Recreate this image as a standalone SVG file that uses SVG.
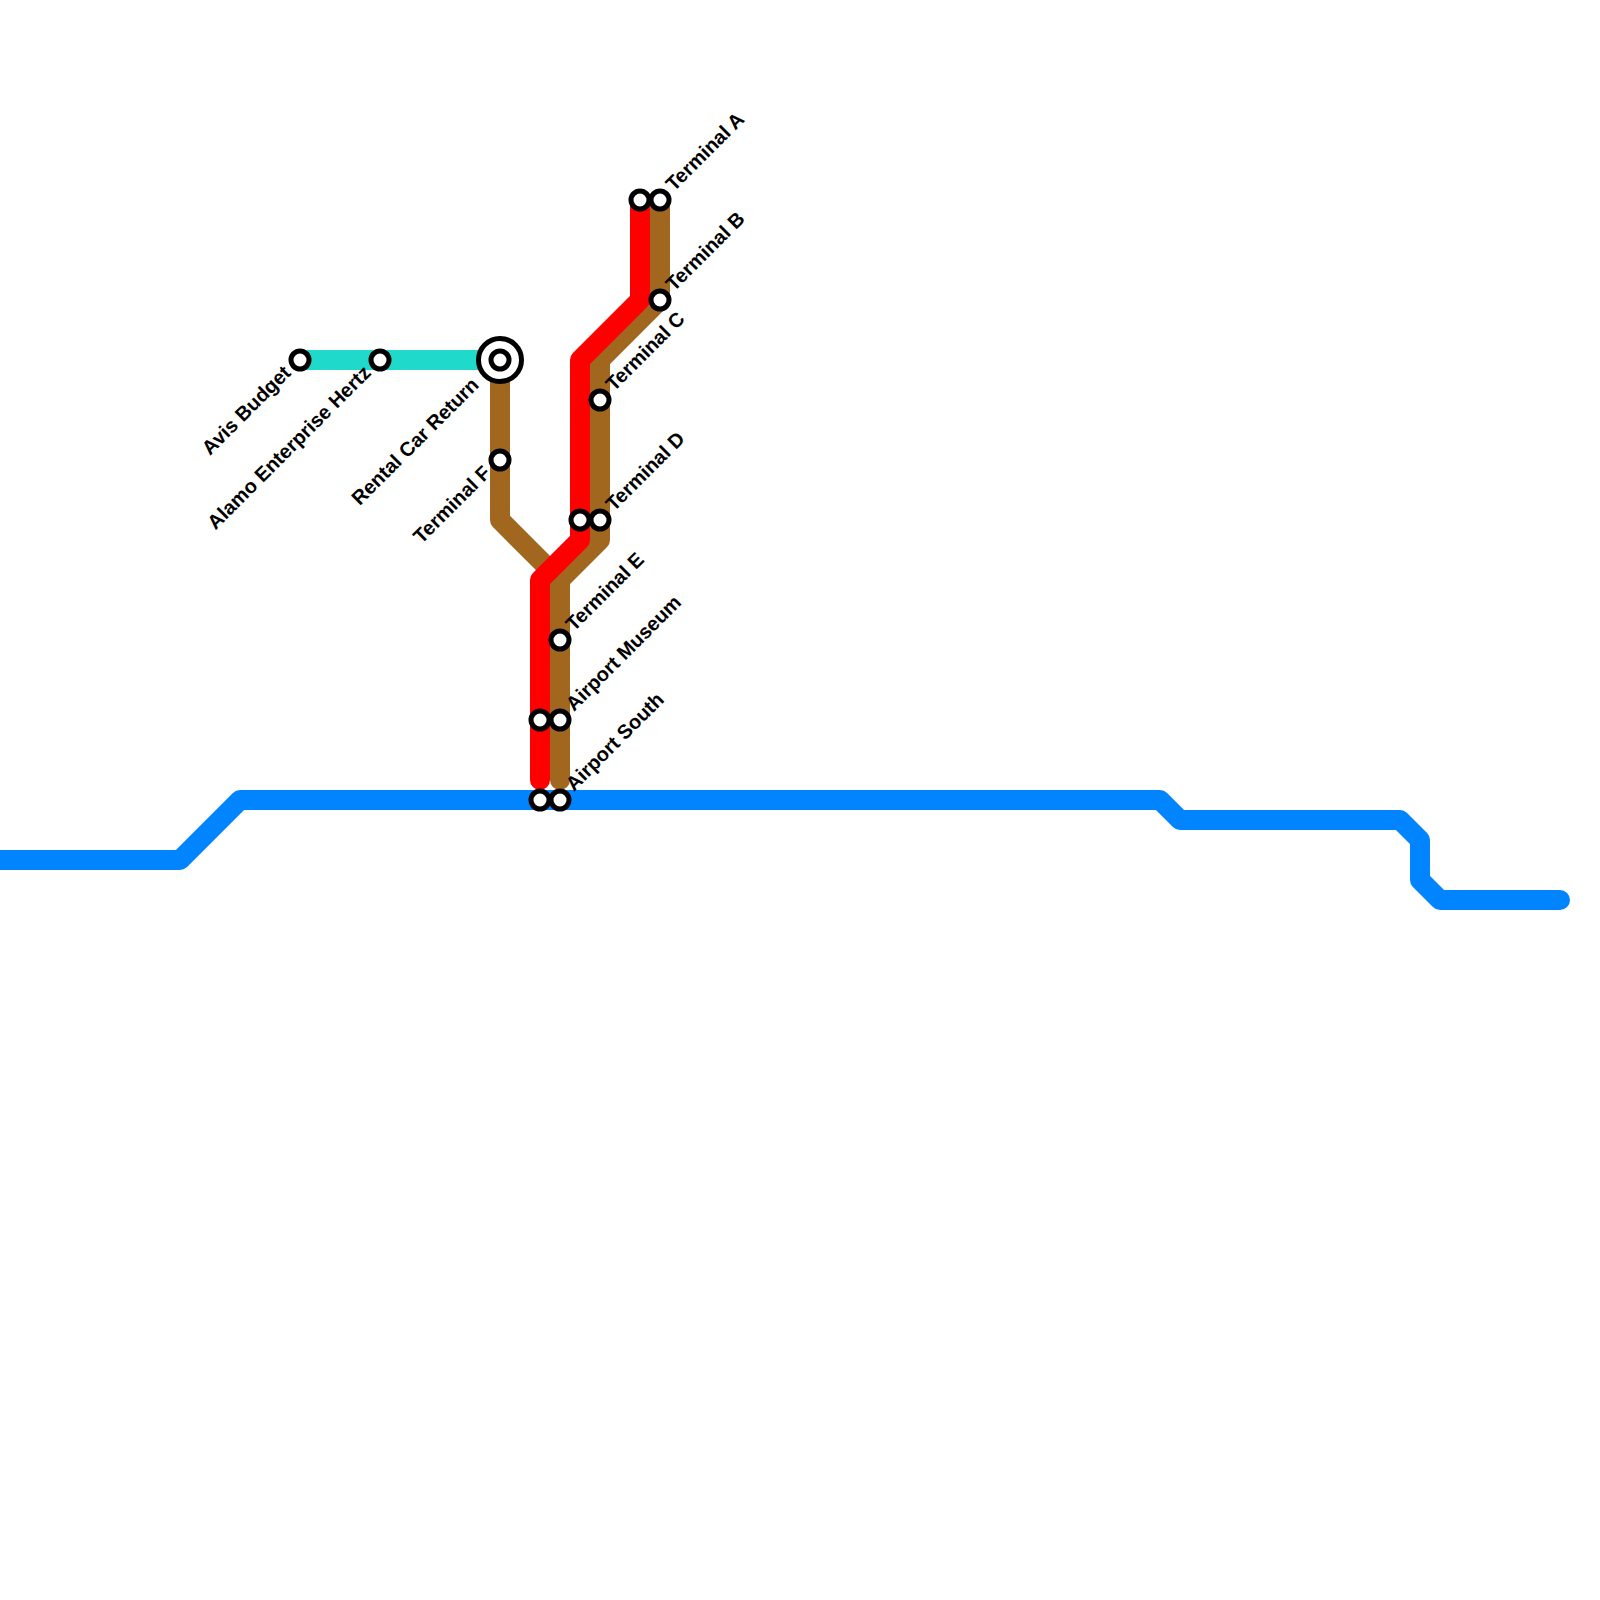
<svg xmlns="http://www.w3.org/2000/svg" width="1600" height="1600" viewBox="0 0 1600 1600">
<style>
.l{fill:none;stroke-width:20;stroke-linecap:round;stroke-linejoin:round}
.s{fill:#fff;stroke:#000;stroke-width:5}
.i{fill:#fff;stroke:#000;stroke-width:5}
text{font-family:"Liberation Sans",Arial,sans-serif;font-size:20px;font-weight:700;fill:#000;text-rendering:geometricPrecision}
.e{text-anchor:end}
</style>
<rect width="1600" height="1600" fill="#fff"/>
<g id="connectors">
<path class="l" stroke="#a2671f" d="M500 360V520L560 580"/>
<path class="l" stroke="#a2671f" d="M660 200V300L600 360V540L560 580V780"/>
<path class="l" stroke="#ff0000" d="M640 200V300L580 360V540L540 580V780"/>
<path class="l" stroke="#1fd9cb" d="M300 360H500"/>
<path class="l" stroke="#0084ff" d="M-20 860H180L240 800H1160L1180 820H1400L1420 840V880L1440 900H1560"/>
</g>
<g id="avis-budget"><circle class="s" cx="300" cy="360" r="9"/><text class="e" transform="translate(292 374) rotate(-45)">Avis Budget</text></g>
<g id="alamo"><circle class="s" cx="380" cy="360" r="9"/><text class="e" transform="translate(372 374) rotate(-45)">Alamo Enterprise Hertz</text></g>
<g id="rental-car-return"><circle class="i" cx="500" cy="360" r="21.5"/><circle class="s" cx="500" cy="360" r="9"/><text class="e" transform="translate(480 386) rotate(-45)">Rental Car Return</text></g>
<g id="terminal-f"><circle class="s" cx="500" cy="460" r="9"/><text class="e" transform="translate(492 474) rotate(-45)">Terminal F</text></g>
<g id="terminal-a"><circle class="s" cx="640" cy="200" r="9"/><circle class="s" cx="660" cy="200" r="9"/><text transform="translate(674 192) rotate(-45)">Terminal A</text></g>
<g id="terminal-b"><circle class="s" cx="660" cy="300" r="9"/><text transform="translate(674 292) rotate(-45)">Terminal B</text></g>
<g id="terminal-c"><circle class="s" cx="600" cy="400" r="9"/><text transform="translate(614 392) rotate(-45)">Terminal C</text></g>
<g id="terminal-d"><circle class="s" cx="580" cy="520" r="9"/><circle class="s" cx="600" cy="520" r="9"/><text transform="translate(614 512) rotate(-45)">Terminal D</text></g>
<g id="terminal-e"><circle class="s" cx="560" cy="640" r="9"/><text transform="translate(574 632) rotate(-45)">Terminal E</text></g>
<g id="airport-museum"><circle class="s" cx="540" cy="720" r="9"/><circle class="s" cx="560" cy="720" r="9"/><text transform="translate(574 712) rotate(-45)">Airport Museum</text></g>
<g id="airport-south"><circle class="s" cx="540" cy="800" r="9"/><circle class="s" cx="560" cy="800" r="9"/><text transform="translate(574 792) rotate(-45)">Airport South</text></g>
</svg>
